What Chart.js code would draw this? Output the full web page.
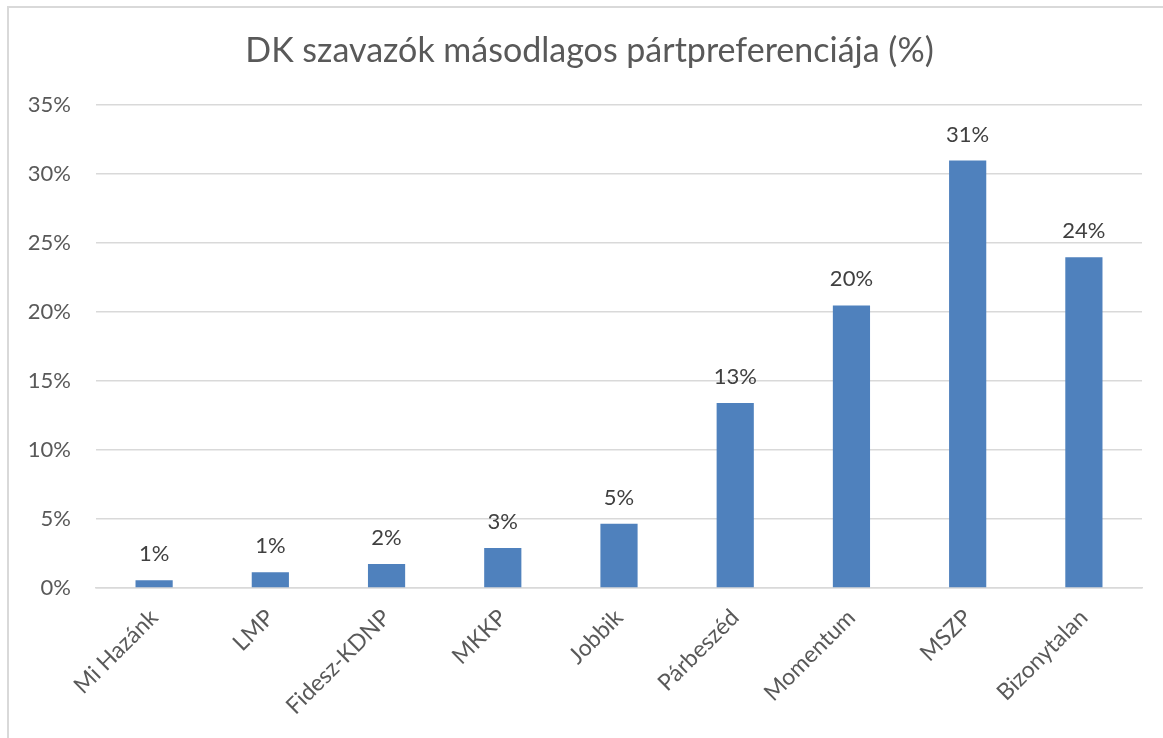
<!DOCTYPE html>
<html lang="hu">
<head>
  <meta charset="UTF-8">
  <title>DK szavazók másodlagos pártpreferenciája</title>
  <script src="https://cdn.jsdelivr.net/npm/chart.js"></script>
  <style>
    body {
      margin: 0;
      background: #fff;
      font-family: Lato, sans-serif;
    }
    .frame {
      position: absolute;
      left: 7px;
      top: 6px;
      width: 1200px;
      height: 800px;
      border-left: 2px solid #d9d9d9;
      border-top: 2px solid #d9d9d9;
    }
    .chart-container {
      position: absolute;
      left: 0;
      top: 0;
      width: 1163px;
      height: 738px;
    }
  </style>
</head>
<body>
  <div class="frame"></div>
  <div class="chart-container">
    <canvas id="myChart"></canvas>
  </div>
  <script>
    const categories = ['Mi Hazánk', 'LMP', 'Fidesz-KDNP', 'MKKP', 'Jobbik', 'Párbeszéd', 'Momentum', 'MSZP', 'Bizonytalan'];
    const values = [0.56, 1.14, 1.74, 2.9, 4.66, 13.4, 20.47, 30.97, 23.95];
    const yTicks = [0, 5, 10, 15, 20, 25, 30, 35];
    const titleText = 'DK szavazók másodlagos pártpreferenciája (%)';

    // labels above the bars, rounded like the original
    const barLabels = {
      id: 'barLabels',
      afterDatasetsDraw(chart) {
        const ctx = chart.ctx;
        const meta = chart.getDatasetMeta(0);
        ctx.save();
        ctx.font = '22px Lato, sans-serif';
        ctx.fillStyle = '#404040';
        ctx.textAlign = 'center';
        ctx.textBaseline = 'middle';
        meta.data.forEach((bar, i) => {
          ctx.fillText(Math.round(values[i]) + '%', bar.x, bar.y - 26);
        });
        ctx.restore();
      }
    };

    // the built-in title only reserves the space; it is drawn here, centred on the frame
    const frameTitle = {
      id: 'frameTitle',
      afterDraw(chart) {
        const ctx = chart.ctx;
        const box = chart.titleBlock;
        ctx.save();
        ctx.font = '34px Lato, sans-serif';
        ctx.fillStyle = '#595959';
        ctx.textAlign = 'center';
        ctx.textBaseline = 'middle';
        ctx.fillText(titleText, chart.width / 2 + 8, box.top + 31 + box.options.font.lineHeight * 34 / 2);
        ctx.restore();
      }
    };

    const ctx = document.getElementById('myChart').getContext('2d');
    new Chart(ctx, {
      type: 'bar',
      data: {
        labels: categories,
        datasets: [{
          data: values,
          backgroundColor: '#4f81bd',
          categoryPercentage: 1,
          barPercentage: 0.32
        }]
      },
      options: {
        responsive: true,
        maintainAspectRatio: false,
        animation: false,
        layout: { padding: { left: 0, right: 21, top: 0, bottom: 0 } },
        plugins: {
          legend: { display: false },
          tooltip: { enabled: false },
          title: {
            display: true,
            text: titleText,
            color: 'rgba(0,0,0,0)',
            font: { family: 'Lato, sans-serif', size: 34, weight: 'normal', lineHeight: 1.2 },
            padding: { top: 31, bottom: 33 }
          }
        },
        scales: {
          x: {
            grid: { display: false },
            border: { color: '#d9d9d9', width: 1.5 },
            ticks: {
              color: '#595959',
              font: { family: 'Lato, sans-serif', size: 23 },
              maxRotation: 45,
              minRotation: 45,
              padding: 8
            },
            afterFit(scale) { scale.height = 150; }
          },
          y: {
            min: 0,
            max: 35,
            afterBuildTicks(scale) { scale.ticks = yTicks.map(v => ({ value: v })); },
            grid: { color: '#d9d9d9', lineWidth: 1.5, drawTicks: false },
            border: { display: false },
            ticks: {
              color: '#595959',
              font: { family: 'Lato, sans-serif', size: 22 },
              padding: 25,
              callback: v => v + '%'
            },
            afterFit(scale) { scale.width = 96; }
          }
        }
      },
      plugins: [barLabels, frameTitle]
    });
  </script>
</body>
</html>
